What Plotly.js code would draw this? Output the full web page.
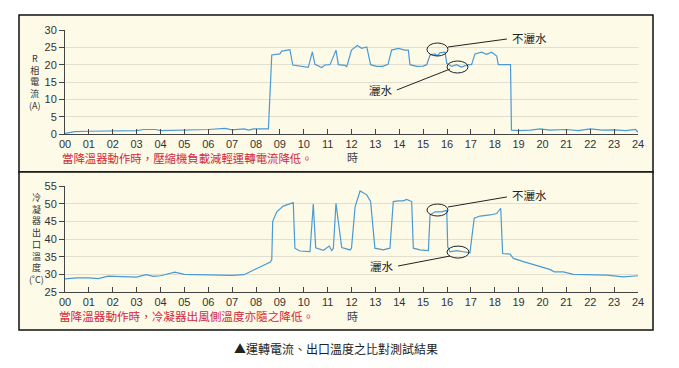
<!DOCTYPE html>
<html><head><meta charset="utf-8">
<script src="https://cdn.plot.ly/plotly-3.0.1.min.js"></script>
<style>html,body{margin:0;padding:0;background:#fff;}#chart{width:679px;height:368px;}</style>
</head><body><div id="chart"></div>
<script>
// ---- data ----
const hourTicks = [0,1,2,3,4,5,6,7,8,9,10,11,12,13,14,15,16,17,18,19,20,21,22,23,24];
const hourLabels = ["00","01","02","03","04","05","06","07","08","09","10","11","12","13","14","15","16","17","18","19","20","21","22","23","24"];

const currentHours = [0,0.4,1,2,3,3.3,3.8,4,5,6,6.7,7,7.5,7.7,7.9,8.52,8.66,9.0,9.08,9.42,9.54,10.19,10.36,10.47,10.75,10.89,11.1,11.35,11.45,11.73,11.8,12.0,12.24,12.43,12.64,12.8,13.05,13.3,13.53,13.68,13.96,14.24,14.38,14.45,14.73,15.0,15.15,15.29,15.5,15.6,15.7,15.92,15.99,16.2,16.4,16.6,16.9,17.03,17.17,17.45,17.66,17.87,18.08,18.15,18.66,18.7,19.0,19.5,19.9,20.3,21.0,21.5,22.0,22.5,23.0,23.5,23.9,24.0];
const currentAmps = [0.2,0.7,0.8,1.0,1.0,1.3,1.3,1.0,1.1,1.3,1.6,1.2,1.5,1.1,1.5,1.5,22.8,23.1,23.9,24.3,19.9,19.2,23.7,20.1,19.2,19.9,20.0,24.2,20.0,19.8,19.4,24.2,25.5,24.7,25.1,20.0,19.5,19.5,20.1,24.2,24.7,24.2,24.2,20.0,19.5,19.6,20.0,22.8,23.1,22.6,23.4,23.6,20.4,19.5,20.0,19.3,20.0,20.0,23.1,23.6,23.0,23.6,22.5,20.0,20.0,1.1,1.0,1.1,1.5,1.1,1.3,1.0,1.5,1.1,1.2,1.0,1.3,0.5];

const tempHours = [0,0.5,1.0,1.4,1.8,2.5,3.0,3.4,3.7,4.0,4.6,5.0,6.0,7.0,7.5,8.0,8.3,8.6,8.66,8.7,8.87,9.14,9.56,9.63,9.84,10.26,10.4,10.5,10.82,11.07,11.17,11.24,11.35,11.59,11.94,12.0,12.15,12.36,12.64,12.8,12.98,13.33,13.61,13.75,13.96,14.17,14.31,14.52,14.59,14.87,15.22,15.29,15.5,15.78,15.99,16.03,16.13,16.4,16.68,16.96,17.14,17.38,17.8,18.08,18.25,18.33,18.64,18.78,19.2,19.9,20.3,20.5,20.87,21.29,22.0,22.69,23.38,24.0];
const tempC = [28.7,29.0,29.0,28.8,29.5,29.4,29.2,29.9,29.4,29.6,30.6,30.0,29.9,29.7,29.9,31.5,32.6,33.5,34.1,45.0,47.7,49.3,50.3,37.4,36.6,36.4,49.9,37.5,36.8,38.0,36.7,37.4,50.1,37.6,36.9,37.4,49.1,53.6,52.5,50.6,37.4,36.9,37.4,50.6,50.8,50.8,51.2,50.6,37.4,36.9,36.7,46.8,47.7,47.7,48.1,37.8,36.4,36.7,36.4,36.1,45.9,46.5,46.8,47.2,48.7,35.9,35.7,34.5,33.6,32.2,31.4,30.7,30.7,30.0,30.0,29.8,29.3,29.6];

const yTitle1 = ["R","相","電","流","(A)"];
const yTitle2 = ["冷","凝","器","出","口","溫","度","(˚C)"];
const note1 = "當降溫器動作時，壓縮機負載減輕運轉電流降低。";
const note2 = "當降溫器動作時，冷凝器出風側溫度亦隨之降低。";
const hourUnit = "時";
const labelDry = "不灑水";
const labelWet = "灑水";
const caption = "▲運轉電流、出口溫度之比對測試結果";

// ---- styling / layout ----
const W = 679, H = 368;
const px = v => v / W, py = v => 1 - v / H;
const lineColor = "#4a9ad3";
const cream = "#fdfae8";
const axisCol = "#444";
const gridCol = "#e2dfd0";
const baseFont = "Liberation Sans, Arial, Noto Sans CJK TC, sans-serif";
const cjkFont = "Noto Sans CJK TC, Liberation Sans, sans-serif";

const traces = [
  {x: currentHours, y: currentAmps, xaxis: "x", yaxis: "y", type: "scatter", mode: "lines",
   line: {color: lineColor, width: 1.2}, hoverinfo: "none"},
  {x: tempHours, y: tempC, xaxis: "x2", yaxis: "y2", type: "scatter", mode: "lines",
   line: {color: lineColor, width: 1.2}, hoverinfo: "none"}
];

const xCommon = {
  range: [0, 24], tickvals: hourTicks, ticktext: hourLabels, ticks: "inside", ticklen: 5,
  tickcolor: axisCol, tickwidth: 1, showline: true, linecolor: axisCol, linewidth: 1,
  showgrid: false, zeroline: false, fixedrange: true,
  tickfont: {size: 11, color: "#333", family: baseFont}
};
const yCommon = {
  dtick: 5, ticks: "outside", ticklen: 5, tickcolor: axisCol, tickwidth: 1,
  showline: true, linecolor: axisCol, linewidth: 1, showgrid: true, gridcolor: gridCol,
  gridwidth: 1, zeroline: false, fixedrange: true,
  tickfont: {size: 11, color: "#333", family: baseFont}
};
const xDom = [px(65), px(638)];

const annotations = [
  {xref: "paper", yref: "paper", x: px(35), y: py(81.5), text: yTitle1.join("<br>"), showarrow: false,
   xanchor: "center", yanchor: "middle", align: "center", font: {size: 9, color: "#333", family: cjkFont}},
  {xref: "paper", yref: "paper", x: px(36), y: py(238), text: yTitle2.join("<br>"), showarrow: false,
   xanchor: "center", yanchor: "middle", align: "center", font: {size: 9, color: "#333", family: cjkFont}},
  {xref: "paper", yref: "paper", x: px(187), y: py(158), text: note1, showarrow: false, xanchor: "center", yanchor: "middle",
   font: {size: 11.4, color: "#d2283a", family: cjkFont}},
  {xref: "paper", yref: "paper", x: px(352), y: py(157), text: hourUnit, showarrow: false, xanchor: "center", yanchor: "middle",
   font: {size: 11, color: "#444", family: cjkFont}},
  {xref: "paper", yref: "paper", x: px(186), y: py(316), text: note2, showarrow: false, xanchor: "center", yanchor: "middle",
   font: {size: 11.6, color: "#d2283a", family: cjkFont}},
  {xref: "paper", yref: "paper", x: px(352), y: py(316), text: hourUnit, showarrow: false, xanchor: "center", yanchor: "middle",
   font: {size: 11, color: "#444", family: cjkFont}},
  {xref: "paper", yref: "paper", x: px(336), y: py(348), text: caption, showarrow: false, xanchor: "center", yanchor: "middle",
   font: {size: 12, color: "#222", family: cjkFont}},
  // top panel callouts
  {xref: "x", yref: "y", x: 18.62, y: 27.7, text: labelDry, showarrow: false, xanchor: "left", yanchor: "middle",
   font: {size: 11.5, color: "#222", family: cjkFont}},
  {xref: "x", yref: "y", x: 13.84, y: 12.7, text: labelWet, showarrow: false, xanchor: "right", yanchor: "middle",
   font: {size: 11.5, color: "#222", family: cjkFont}},
  // bottom panel callouts
  {xref: "x2", yref: "y2", x: 18.62, y: 52.45, text: labelDry, showarrow: false, xanchor: "left", yanchor: "middle",
   font: {size: 11.5, color: "#222", family: cjkFont}},
  {xref: "x2", yref: "y2", x: 13.86, y: 32.36, text: labelWet, showarrow: false, xanchor: "right", yanchor: "middle",
   font: {size: 11.5, color: "#222", family: cjkFont}}
];

const shapes = [
  {type: "rect", xref: "paper", yref: "paper", x0: px(19), x1: px(653), y0: py(172), y1: py(15),
   fillcolor: cream, line: {color: "#111", width: 1.5}, layer: "below"},
  {type: "rect", xref: "paper", yref: "paper", x0: px(19), x1: px(653), y0: py(330), y1: py(172),
   fillcolor: cream, line: {color: "#111", width: 1.5}, layer: "below"},
  // top ellipses + leader lines
  {type: "circle", xref: "x", yref: "y", x0: 15.16, x1: 16.04, y0: 22.5, y1: 26.25, line: {color: "#222", width: 1}},
  {type: "circle", xref: "x", yref: "y", x0: 16.0, x1: 16.88, y0: 17.6, y1: 21.06, line: {color: "#222", width: 1}},
  {type: "line", xref: "x", yref: "y", x0: 16.04, y0: 25.1, x1: 18.51, y1: 27.4, line: {color: "#222", width: 1}},
  {type: "line", xref: "x", yref: "y", x0: 13.9, y0: 12.7, x1: 16.13, y1: 18.75, line: {color: "#222", width: 1}},
  // bottom ellipses + leader lines
  {type: "circle", xref: "x2", yref: "y2", x0: 15.16, x1: 16.04, y0: 46.5, y1: 49.9, line: {color: "#222", width: 1}},
  {type: "circle", xref: "x2", yref: "y2", x0: 16.0, x1: 16.92, y0: 34.6, y1: 38.0, line: {color: "#222", width: 1}},
  {type: "line", xref: "x2", yref: "y2", x0: 16.04, y0: 49.06, x1: 18.51, y1: 51.9, line: {color: "#222", width: 1}},
  {type: "line", xref: "x2", yref: "y2", x0: 13.95, y0: 32.36, x1: 16.13, y1: 35.19, line: {color: "#222", width: 1}}
];

const layout = {
  width: W, height: H, margin: {l: 0, r: 0, t: 0, b: 0},
  paper_bgcolor: "#ffffff", plot_bgcolor: "rgba(0,0,0,0)",
  showlegend: false, font: {family: baseFont, size: 11, color: "#333"},
  xaxis: Object.assign({}, xCommon, {domain: xDom, anchor: "y"}),
  yaxis: Object.assign({}, yCommon, {domain: [py(134), py(30)], range: [0, 30], anchor: "x"}),
  xaxis2: Object.assign({}, xCommon, {domain: xDom, anchor: "y2"}),
  yaxis2: Object.assign({}, yCommon, {domain: [py(292), py(186)], range: [25, 55], anchor: "x2"}),
  annotations: annotations, shapes: shapes
};

Plotly.newPlot("chart", traces, layout, {displayModeBar: false, staticPlot: true});
</script></body></html>
